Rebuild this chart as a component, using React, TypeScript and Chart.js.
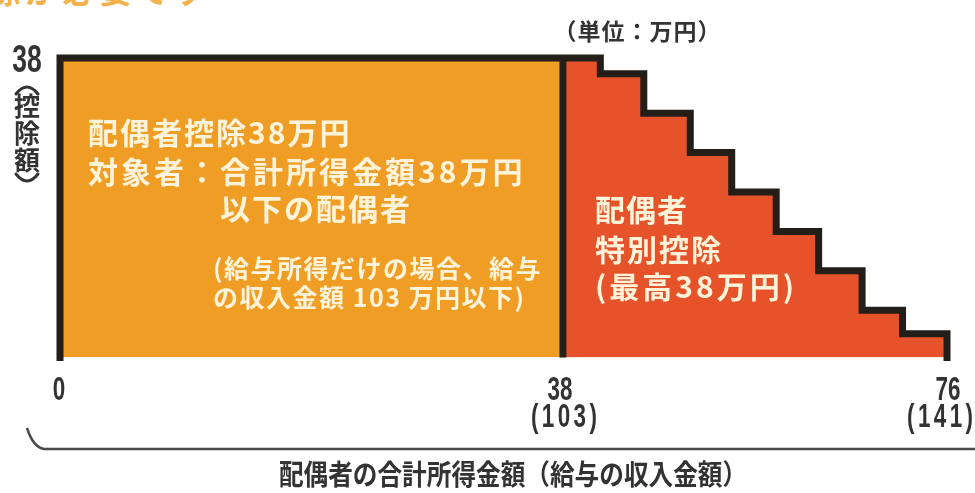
import React, { useEffect, useRef } from "react";
import { Chart, registerables, LinearScale } from "chart.js";

// ---- data ----
const xTickValues = [0, 38, 76];
const xTickLabels = ["0", "38", "76"];
const xTickSubLabels = ["", "(103)", "(141)"];
const yTickValues = [38];
const yTickLabels = ["38"];

const spouseRange = [0, 38]; // 配偶者控除: 合計所得金額 0〜38万円
const spouseValue = 38; // 控除額 38万円

// 配偶者特別控除 (schematic step boundaries as drawn, and deduction amounts)
const specialStepStarts = [38, 41.7, 46.0, 50.6, 54.7, 59.1, 63.3, 67.6, 71.6];
const specialStepEnd = 76;
const specialStepValues = [38, 36, 31, 26, 21, 16, 11, 6, 3];

// axis break (the drawing is not to scale: the 0–38 part is wider)
const axisBreaks = [0, 38, 76];
const axisFractions = [0, 0.567, 1];

class PiecewiseScale extends LinearScale {
  static id = "piecewise";
  static defaults = (LinearScale as any).defaults;
  private toDecimal(v: number): number {
    const b: number[] = (this.options as any).breaks || [this.min, this.max];
    const f: number[] = (this.options as any).fractions || [0, 1];
    if (v <= b[0]) return f[0] + ((v - b[0]) / (b[1] - b[0])) * (f[1] - f[0]);
    for (let i = 0; i < b.length - 1; i++) {
      if (v <= b[i + 1] || i === b.length - 2) {
        return f[i] + ((v - b[i]) / (b[i + 1] - b[i])) * (f[i + 1] - f[i]);
      }
    }
    return 1;
  }
  getPixelForValue(value: any) {
    if (value === null || value === undefined || isNaN(+value)) return NaN;
    return this.getPixelForDecimal(this.toDecimal(+value));
  }
  getValueForPixel(pixel: number) {
    const d = this.getDecimalForPixel(pixel);
    const b: number[] = (this.options as any).breaks;
    const f: number[] = (this.options as any).fractions;
    for (let i = 0; i < b.length - 1; i++) {
      if (d <= f[i + 1] || i === b.length - 2) {
        return b[i] + ((d - f[i]) / (f[i + 1] - f[i])) * (b[i + 1] - b[i]);
      }
    }
    return b[b.length - 1];
  }
}

Chart.register(...registerables, PiecewiseScale as any);

const ORANGE = "#F09D25";
const RED = "#E6522A";
const EDGE = "#231f18";
const DARK = "#333333";
const CREAM = "#FFF4DA";
const JP = '"Noto Sans CJK JP", sans-serif';
const NUM = '"Liberation Sans", Arial, sans-serif';

type TO = {
  size: number;
  color: string;
  align?: "left" | "center" | "right";
  sx?: number;
  ls?: number;
  family?: string;
  weight?: string;
  baseline?: CanvasTextBaseline;
};

function txt(ctx: CanvasRenderingContext2D, s: string, x: number, y: number, o: TO) {
  ctx.save();
  ctx.font = `${o.weight ?? "bold"} ${o.size}px ${o.family ?? JP}`;
  ctx.fillStyle = o.color;
  ctx.textBaseline = o.baseline ?? "middle";
  ctx.textAlign = "left";
  (ctx as any).letterSpacing = `${o.ls ?? 0}px`;
  const sx = o.sx ?? 1;
  const w = ctx.measureText(s).width - (o.ls ?? 0);
  const left = o.align === "center" ? x - (w * sx) / 2 : o.align === "right" ? x - w * sx : x;
  ctx.translate(left, y);
  ctx.scale(sx, 1);
  ctx.fillText(s, 0, 0);
  ctx.restore();
}

const labelsPlugin = {
  id: "labels",
  afterDraw(chart: any) {
    const ctx: CanvasRenderingContext2D = chart.ctx;
    const xs = chart.scales.x;
    const ys = chart.scales.y;

    // cut-off heading at the very top
    txt(ctx, "除が必要です", -12, 3, { size: 33, color: "#F4B24A", baseline: "alphabetic", ls: 4 });

    // unit
    txt(ctx, "（単位：万円）", 637, 31, { size: 23, color: DARK, align: "center", ls: 1 });

    // y tick
    yTickValues.forEach((v, i) => {
      txt(ctx, yTickLabels[i], 27, ys.getPixelForValue(v) + 3, {
        size: 39, color: DARK, align: "center", sx: 0.68, family: NUM,
      });
    });

    // vertical y label (控除額) with vertical parentheses
    const vx = 27;
    ctx.save();
    ctx.strokeStyle = DARK;
    ctx.lineWidth = 3;
    ctx.lineCap = "round";
    ctx.beginPath();
    ctx.moveTo(vx - 11, 94);
    ctx.quadraticCurveTo(vx, 80, vx + 11, 94);
    ctx.stroke();
    ctx.beginPath();
    ctx.moveTo(vx - 11, 174);
    ctx.quadraticCurveTo(vx, 188, vx + 11, 174);
    ctx.stroke();
    ctx.restore();
    txt(ctx, "控", vx, 106, { size: 26, color: DARK, align: "center" });
    txt(ctx, "除", vx, 133, { size: 26, color: DARK, align: "center" });
    txt(ctx, "額", vx, 160, { size: 26, color: DARK, align: "center" });

    // x ticks
    const mainOffset = [-1, -3, 1];
    const subOffset = [0, 1, -7];
    xTickValues.forEach((v, i) => {
      const px = xs.getPixelForValue(v);
      txt(ctx, xTickLabels[i], px + mainOffset[i], 391, {
        size: 33, color: DARK, align: "center", sx: 0.68, family: NUM,
      });
      if (xTickSubLabels[i]) {
        txt(ctx, xTickSubLabels[i], px + subOffset[i], 418, {
          size: 33, color: DARK, align: "center", sx: 0.68, family: NUM, ls: 5,
        });
      }
    });

    // bracket
    ctx.save();
    ctx.strokeStyle = "#4a4a4a";
    ctx.lineWidth = 2.5;
    ctx.beginPath();
    ctx.moveTo(27, 428);
    ctx.quadraticCurveTo(33, 447, 44, 449);
    ctx.lineTo(975, 449);
    ctx.stroke();
    ctx.restore();

    // x title
    txt(ctx, "配偶者の合計所得金額（給与の収入金額）", 513, 474, {
      size: 28, color: DARK, align: "center", sx: 0.88,
    });

    // text in the orange area
    txt(ctx, "配偶者控除38万円", 88, 133, { size: 30, color: CREAM, ls: 2 });
    txt(ctx, "対象者：合計所得金額38万円", 88, 172, { size: 30, color: CREAM, ls: 3 });
    txt(ctx, "以下の配偶者", 220, 209, { size: 30, color: CREAM, ls: 2 });
    txt(ctx, "(給与所得だけの場合、給与", 213, 268, { size: 25, color: CREAM, ls: 1.5 });
    txt(ctx, "の収入金額 103 万円以下)", 213, 297, { size: 25, color: CREAM, ls: 1.5 });

    // text in the red area
    txt(ctx, "配偶者", 595, 210, { size: 30, color: CREAM, ls: 1 });
    txt(ctx, "特別控除", 595, 250, { size: 30, color: CREAM, ls: 2 });
    txt(ctx, "(最高38万円)", 595, 287, { size: 30, color: CREAM, ls: 3 });
  },
};

export default function App() {
  const ref = useRef<HTMLCanvasElement | null>(null);

  useEffect(() => {
    if (!ref.current) return;

    const orangePts = [
      { x: spouseRange[0], y: spouseValue },
      { x: spouseRange[1], y: spouseValue },
    ];

    const redPts = specialStepStarts.map((x, i) => ({ x, y: specialStepValues[i] }));
    redPts.push({ x: specialStepEnd, y: specialStepValues[specialStepValues.length - 1] });

    // outline path built from the same arrays
    const outline: { x: number; y: number }[] = [
      { x: spouseRange[0], y: 0 },
      { x: spouseRange[0], y: spouseValue },
      { x: spouseRange[1], y: spouseValue },
    ];
    specialStepStarts.forEach((x, i) => {
      const end = i < specialStepStarts.length - 1 ? specialStepStarts[i + 1] : specialStepEnd;
      outline.push({ x, y: specialStepValues[i] });
      outline.push({ x: end, y: specialStepValues[i] });
    });
    outline.push({ x: specialStepEnd, y: 0 });
    outline.push({ x: spouseRange[0], y: 0 });

    const divider = [
      { x: spouseRange[1], y: 0 },
      { x: spouseRange[1], y: spouseValue },
    ];

    const chart = new Chart(ref.current, {
      type: "line",
      data: {
        datasets: [
          {
            data: outline,
            borderColor: EDGE,
            borderWidth: 7,
            borderJoinStyle: "miter",
            borderCapStyle: "square",
            pointRadius: 0,
            fill: false,
            tension: 0,
            order: 0,
            clip: false,
          } as any,
          {
            data: divider,
            borderColor: EDGE,
            borderWidth: 7,
            pointRadius: 0,
            fill: false,
            order: 1,
            clip: false,
          } as any,
          {
            data: redPts,
            stepped: "before",
            backgroundColor: RED,
            borderWidth: 0,
            pointRadius: 0,
            fill: "origin",
            order: 2,
          } as any,
          {
            data: orangePts,
            backgroundColor: ORANGE,
            borderWidth: 0,
            pointRadius: 0,
            fill: "origin",
            order: 3,
          } as any,
        ],
      },
      options: {
        animation: false,
        responsive: false,
        devicePixelRatio: 1,
        parsing: false as any,
        layout: { padding: { left: 60, right: 28, top: 58, bottom: 135.5 } },
        plugins: {
          legend: { display: false },
          tooltip: { enabled: false },
        },
        scales: {
          x: {
            type: "piecewise" as any,
            min: 0,
            max: 76,
            display: false,
            breaks: axisBreaks,
            fractions: axisFractions,
          } as any,
          y: { type: "linear", min: 0, max: 38, display: false },
        },
      },
      plugins: [labelsPlugin],
    });

    return () => chart.destroy();
  }, []);

  return (
    <div style={{ position: "fixed", left: 0, top: 0, width: 975, height: 493, background: "#fff" }}>
      <canvas ref={ref} width={975} height={493} style={{ width: 975, height: 493, display: "block" }} />
    </div>
  );
}
